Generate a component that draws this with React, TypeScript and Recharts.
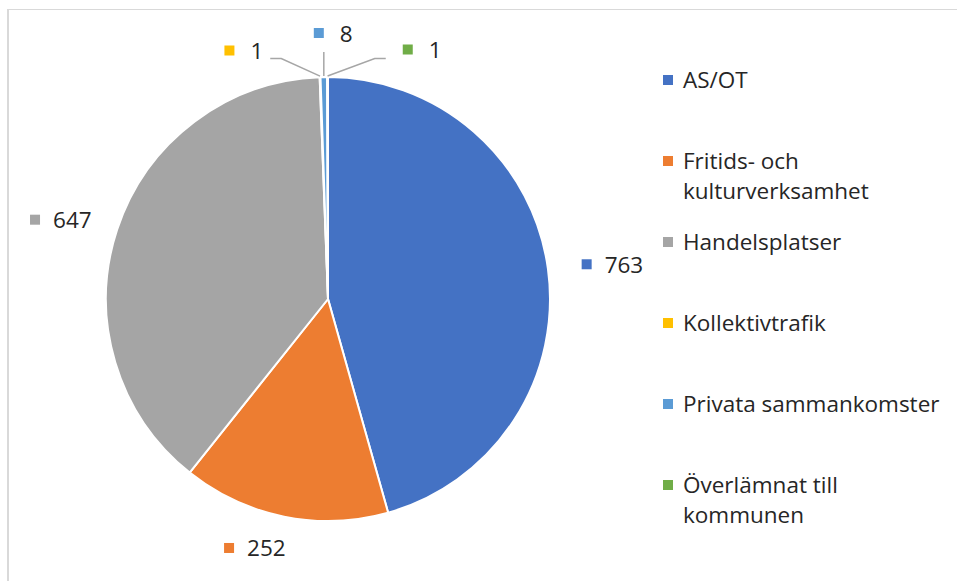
import React from "react";
import { PieChart, Pie, Cell, Legend } from "recharts";

const categories = [
  "AS/OT",
  "Fritids- och kulturverksamhet",
  "Handelsplatser",
  "Kollektivtrafik",
  "Privata sammankomster",
  "Överlämnat till kommunen",
];
const counts = [763, 252, 647, 1, 8, 1];
const colors = ["#4472C4", "#ED7D31", "#A5A5A5", "#FFC000", "#5B9BD5", "#70AD47"];
const legendLines = [
  ["AS/OT"],
  ["Fritids- och", "kulturverksamhet"],
  ["Handelsplatser"],
  ["Kollektivtrafik"],
  ["Privata sammankomster"],
  ["Överlämnat till", "kommunen"],
];

const data = categories.map((name, i) => ({ name, value: counts[i] }));

const FONT = "'Open Sans', 'Noto Sans', sans-serif";
const FS = 22.5;
const TEXT = "#262626";
const RAD = Math.PI / 180;
const total = counts.reduce((a, b) => a + b, 0);
const smallIdx = counts.map((v, i) => (v / total < 0.01 ? i : -1)).filter((i) => i >= 0);
const digitW = FS * 0.57;

const renderLabel = (props: any) => {
  const { cx, cy, midAngle, outerRadius, index, value } = props;
  const color = colors[index];
  const small = smallIdx.indexOf(index);
  if (small < 0) {
    const R = outerRadius + 28;
    const c = Math.cos(midAngle * RAD);
    const s = Math.sin(midAngle * RAD);
    const ax = cx + R * c;
    const ay = cy - R * s;
    const textW = String(value).length * digitW;
    const boxW = 23 + textW;
    const left = c >= 0 ? ax + 6 : ax - boxW + 4 + (Math.abs(s) > 0.7 ? 3 : -3);
    const yc = ay - s * 4;
    return (
      <g>
        <rect x={left} y={yc - 5} width={10} height={10} fill={color} />
        <text x={left + 23} y={yc} dominantBaseline="central" fontSize={FS} fontFamily={FONT} fill={TEXT}>
          {value}
        </text>
      </g>
    );
  }
  // tiny slices: fan labels out with leader lines
  const mid = (smallIdx.length - 1) / 2;
  const spread = (small - mid) * -11;
  const la = 90 + spread;
  const p0x = cx + (outerRadius + 1) * Math.cos(midAngle * RAD);
  const p0y = cy - (outerRadius + 1) * Math.sin(midAngle * RAD);
  const R1 = outerRadius + 23;
  const p1x = cx + R1 * Math.cos(la * RAD);
  const p1y = cy - R1 * Math.sin(la * RAD);
  const dir = Math.abs(spread) < 1 ? 0 : Math.cos(la * RAD) > 0 ? 1 : -1;
  const p2x = p1x + dir * 11;
  const pts = dir === 0 ? `${p0x},${p0y} ${p0x},${p1y - 2}` : `${p0x},${p0y} ${p1x},${p1y} ${p2x},${p1y}`;
  let left: number;
  let yc: number;
  const textW = String(value).length * digitW;
  if (dir === 0) {
    left = p0x - 10;
    yc = p1y - 21;
  } else if (dir > 0) {
    left = p2x + 17;
    yc = p1y - 9;
  } else {
    left = p2x - 3 - 26 - textW - 4;
    yc = p1y - 8;
  }
  return (
    <g>
      <polyline points={pts} fill="none" stroke="#A6A6A6" strokeWidth={1.5} />
      <rect x={left} y={yc - 5} width={10} height={10} fill={color} />
      <text x={left + 26} y={yc} dominantBaseline="central" fontSize={FS} fontFamily={FONT} fill={TEXT}>
        {value}
      </text>
    </g>
  );
};

const renderLegend = (props: any) => {
  const { payload } = props;
  return (
    <div style={{ fontFamily: FONT, fontSize: FS, color: TEXT }}>
      {(payload || []).map((entry: any, i: number) => (
        <div key={i} style={{ height: 81, position: "relative" }}>
          <div
            style={{ position: "absolute", left: 0, top: 10, width: 10, height: 10, background: entry.color }}
          />
          <div style={{ position: "absolute", left: 20, top: 0, lineHeight: "30px", whiteSpace: "nowrap" }}>
            {legendLines[i].map((l, j) => (
              <div key={j}>{l}</div>
            ))}
          </div>
        </div>
      ))}
    </div>
  );
};

export default function App() {
  return (
    <div style={{ position: "absolute", left: 0, top: 0, width: 957, height: 581, overflow: "hidden", background: "#fff" }}>
      <div
        style={{
          position: "absolute",
          left: 7,
          top: 9,
          width: 1200,
          height: 1200,
          borderLeft: "2px solid #D9D9D9",
          borderTop: "1px solid #D9D9D9",
        }}
      />
      <div style={{ position: "absolute", left: 0, top: 0 }}>
        <PieChart width={957} height={581} margin={{ top: 0, right: 0, bottom: 0, left: 0 }}>
          <Pie
            data={data}
            dataKey="value"
            nameKey="name"
            cx={328}
            cy={299}
            outerRadius={222}
            startAngle={90}
            endAngle={-270}
            stroke="#FFFFFF"
            strokeWidth={2}
            label={renderLabel}
            labelLine={false}
            isAnimationActive={false}
          >
            {data.map((d, i) => (
              <Cell key={d.name} fill={colors[i]} />
            ))}
          </Pie>
          <Legend
            layout="vertical"
            align="right"
            verticalAlign="top"
            content={renderLegend}
            wrapperStyle={{ position: "absolute", left: 663, top: 65, width: 290 }}
          />
        </PieChart>
      </div>
    </div>
  );
}
